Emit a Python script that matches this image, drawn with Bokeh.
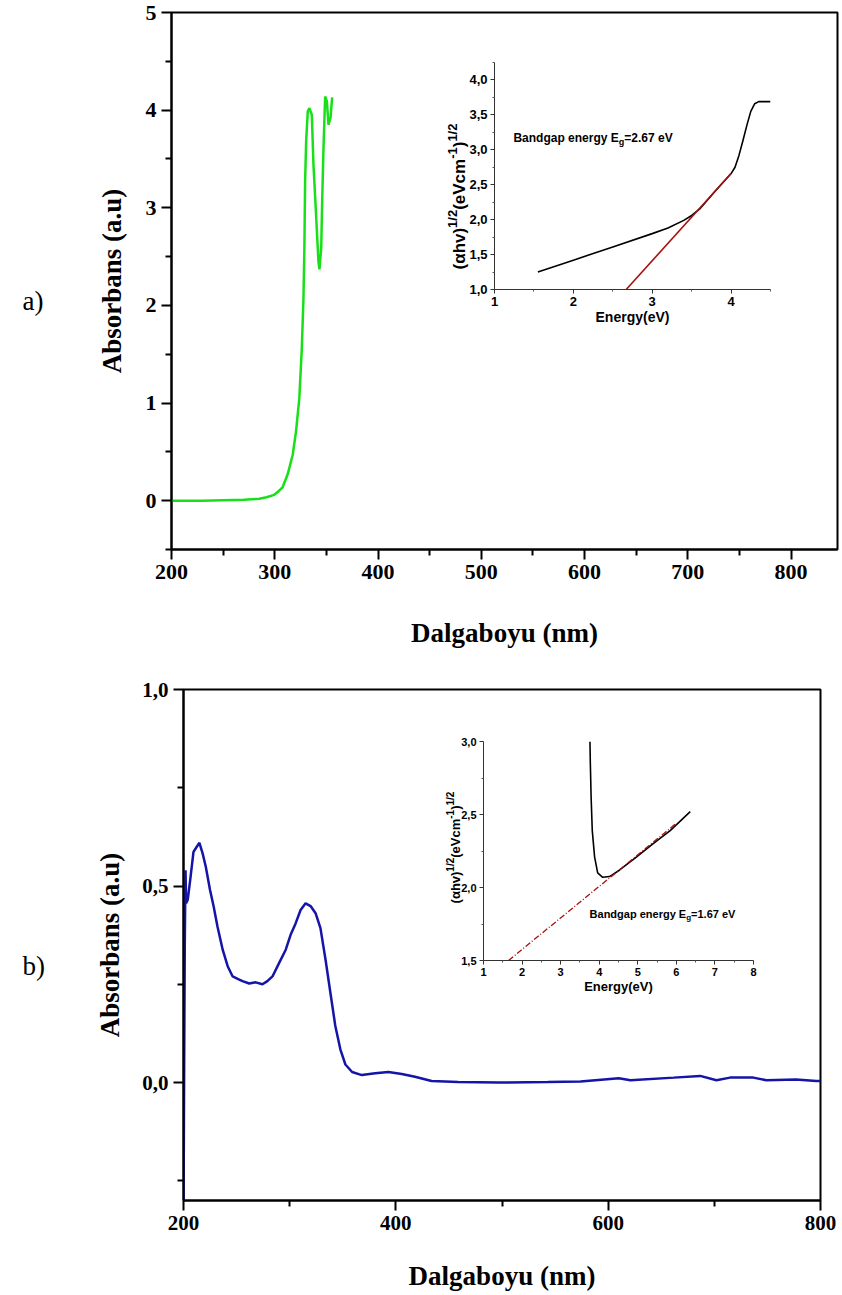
import numpy as np
from bokeh.plotting import figure
from bokeh.models import Range1d, Label, FixedTicker, CustomJSTickFormatter
from bokeh.embed import file_html
from bokeh.resources import INLINE

# ---------------- data ----------------
# (a) main spectrum, green
wl_a = [200, 230, 250, 270, 285, 292, 299.5, 304, 307.7, 312.5, 317.4, 320.6, 323.8, 326.2,
        327.8, 328.7, 329.4, 330.4, 332, 333.6, 335.9, 337.5, 340, 342.3, 343.3, 345,
        346, 347.2, 348.8, 350.5, 352, 354, 355.6]
abs_a = [0.0, 0.0, 0.005, 0.01, 0.02, 0.035, 0.06, 0.1, 0.14, 0.27, 0.47, 0.71, 1.05, 1.56,
         2.07, 2.59, 3.27, 3.68, 3.99, 4.02, 3.95, 3.44, 2.93, 2.45, 2.37, 2.59,
         3.1, 3.61, 4.14, 4.09, 3.85, 3.92, 4.13]

# (a) inset: Tauc plot
energy_a = [1.55, 2.0, 2.5, 3.0, 3.2, 3.4, 3.5, 3.6, 3.8, 4.0, 4.05, 4.1, 4.15, 4.2, 4.25,
            4.3, 4.35, 4.5]
tauc_a = [1.25, 1.42, 1.61, 1.80, 1.88, 1.99, 2.06, 2.15, 2.41, 2.66, 2.75, 2.92, 3.13,
          3.35, 3.55, 3.66, 3.69, 3.69]
fit_a_x = [2.67, 4.0]
fit_a_y = [1.0, 2.66]

# (b) main spectrum, blue
wl_b = [200, 200.6, 201.2, 201.9, 202.5, 204, 206.3, 209.4, 212.5, 215, 218, 221, 225, 228.4,
        232, 236.9, 241.6, 246.3, 251, 255.6, 261.9, 268, 274.4, 279, 283.8, 290, 296.3,
        300.9, 305.6, 310.3, 315, 319.7, 324.4, 329, 333.8, 338.4, 343, 347.8, 352.5, 358.8,
        368, 380.6, 393, 405.6, 418, 433.7, 458.7, 496, 543, 574, 610, 621, 661.7, 686.7,
        702, 714.8, 736.7, 749, 777, 796, 800]
abs_b = [-0.35, 0.03, 0.35, 0.54, 0.456, 0.465, 0.515, 0.587, 0.60, 0.61, 0.583, 0.549, 0.49,
         0.448, 0.397, 0.338, 0.296, 0.27, 0.264, 0.258, 0.252, 0.255, 0.25, 0.258, 0.27,
         0.304, 0.338, 0.376, 0.405, 0.439, 0.456, 0.449, 0.431, 0.393, 0.3125, 0.228, 0.144,
         0.084, 0.046, 0.027, 0.019, 0.024, 0.027, 0.022, 0.015, 0.004, 0.0015, 0.0, 0.0015,
         0.003, 0.011, 0.006, 0.0126, 0.017, 0.006, 0.0126, 0.0126, 0.006, 0.008, 0.004, 0.004]

# (b) inset: Tauc plot
energy_b = [3.76, 3.77, 3.79, 3.82, 3.88, 3.96, 4.09, 4.27, 4.53, 4.97, 5.40, 5.84, 6.36]
tauc_b = [3.0, 2.85, 2.62, 2.39, 2.21, 2.10, 2.07, 2.075, 2.12, 2.21, 2.30, 2.39, 2.52]
fit_b_x = [1.65, 6.0]
fit_b_y = [1.5, 2.44]

# tick values
a_xticks = [200, 300, 400, 500, 600, 700, 800]
a_xminor = [250, 350, 450, 550, 650, 750, 850]
a_yticks = [0, 1, 2, 3, 4, 5]
a_yminor = [-0.5, 0.5, 1.5, 2.5, 3.5, 4.5]
b_xticks = [200, 400, 600, 800]
b_xminor = [300, 500, 700]
b_yticks = [0.0, 0.5, 1.0]
b_yminor = [-0.25, 0.25, 0.75]
ia_xticks = [1, 2, 3, 4]
ia_xminor = [1.5, 2.5, 3.5, 4.5]
ia_yticks = [1.0, 1.5, 2.0, 2.5, 3.0, 3.5, 4.0]
ia_yminor = [1.25, 1.75, 2.25, 2.75, 3.25, 3.75, 4.25]
ib_xticks = [1, 2, 3, 4, 5, 6, 7, 8]
ib_xminor = [1.5, 2.5, 3.5, 4.5, 5.5, 6.5, 7.5]
ib_yticks = [1.5, 2.0, 2.5, 3.0]
ib_yminor = [1.75, 2.25, 2.75]

GREEN = "#18e018"
BLUE = "#1414a8"
RED = "#a81010"
SERIF = "Liberation Serif"
SANS = "Liberation Sans"

comma1 = "return tick.toFixed(1).replace('.', ',');"

# Liberation Sans Bold advance widths (per 1000 em)
W = {' ': 278, '(': 333, ')': 333, ',': 278, '-': 333, '.': 278, '/': 278, '=': 584,
     'B': 722, 'E': 667, 'V': 667, 'a': 556, 'b': 611, 'c': 556, 'd': 611, 'e': 556,
     'g': 611, 'h': 611, 'm': 889, 'n': 611, 'p': 611, 'r': 389, 'v': 556, 'y': 556,
     'α': 611}


def tw(t, size):
    return sum(W.get(c, 556) for c in t) * size / 1000.0


def place(left, top):
    return {"position": "absolute", "left": f"{left}px", "top": f"{top}px"}


def style_main(p, tick_size, xt, xm, yt, ym, yfmt=None):
    p.grid.visible = False
    p.outline_line_color = "black"
    p.outline_line_width = 2
    p.background_fill_color = "white"
    p.border_fill_color = "white"
    p.xaxis.ticker = FixedTicker(ticks=xt, minor_ticks=xm)
    p.yaxis.ticker = FixedTicker(ticks=yt, minor_ticks=ym)
    if yfmt is not None:
        p.yaxis.formatter = CustomJSTickFormatter(code=yfmt)
    for ax in (p.xaxis, p.yaxis):
        ax.axis_line_width = 2
        ax.axis_line_color = "black"
        ax.major_tick_line_width = 2
        ax.minor_tick_line_width = 2
        ax.major_tick_out = 10
        ax.major_tick_in = 0
        ax.minor_tick_out = 6
        ax.minor_tick_in = 0
        ax.major_label_text_font = SERIF
        ax.major_label_text_font_style = "bold"
        ax.major_label_text_font_size = tick_size
        ax.major_label_text_color = "black"
        ax.axis_label_text_font = SERIF
        ax.axis_label_text_font_style = "bold"
        ax.axis_label_text_font_size = "27px"
        ax.axis_label_text_color = "black"


def style_inset(p, xt, xm, yt, ym, tick_size, lab_size):
    p.grid.visible = False
    p.outline_line_color = None
    p.background_fill_alpha = 0
    p.border_fill_alpha = 0
    p.xaxis.ticker = FixedTicker(ticks=xt, minor_ticks=xm)
    p.yaxis.ticker = FixedTicker(ticks=yt, minor_ticks=ym)
    p.yaxis.formatter = CustomJSTickFormatter(code=comma1)
    for ax in (p.xaxis, p.yaxis):
        ax.axis_line_width = 1
        ax.axis_line_color = "#333333"
        ax.major_tick_line_color = "#333333"
        ax.minor_tick_line_color = "#555555"
        ax.major_tick_out = 4
        ax.major_tick_in = 0
        ax.minor_tick_out = 2
        ax.minor_tick_in = 0
        ax.major_label_text_font = SANS
        ax.major_label_text_font_style = "bold"
        ax.major_label_text_font_size = tick_size
        ax.major_label_text_color = "black"
        ax.major_label_standoff = 3
    p.xaxis.axis_label = "Energy(eV)"
    p.xaxis.axis_label_text_font = SANS
    p.xaxis.axis_label_text_font_style = "bold"
    p.xaxis.axis_label_text_font_size = lab_size
    p.xaxis.axis_label_text_color = "black"
    p.xaxis.axis_label_standoff = 0


def text_fig(left, top, w, h):
    """Transparent figure used only to hold free text outside the plot frames."""
    f = figure(width=w, height=h, x_range=Range1d(0, w), y_range=Range1d(0, h),
               output_backend="svg", toolbar_location=None,
               x_axis_location=None, y_axis_location=None, min_border=0,
               styles=place(left, top))
    f.grid.visible = False
    f.outline_line_color = None
    f.background_fill_alpha = 0
    f.border_fill_alpha = 0
    return f


def rot_label(f, pieces, x, yc, S, s):
    total = sum(tw(t, s if sup else S) for t, sup in pieces)
    y = yc - total / 2.0
    for t, sup in pieces:
        size = s if sup else S
        f.add_layout(Label(x=x - (0.42 * S if sup else 0), y=y, text=t, angle=np.pi / 2,
                           text_font=SANS, text_font_style="bold",
                           text_font_size=f"{size}px", text_align="left",
                           text_baseline="alphabetic", text_color="black"))
        y += tw(t, size)


def sub_label(p, x, y, before, sub, after, S):
    s = round(S * 0.75)
    off = 0.0
    for t, size, dy in ((before, S, 0), (sub, s, -0.3 * S), (after, S, 0)):
        p.add_layout(Label(x=x, y=y, x_offset=off, y_offset=dy, text=t,
                           text_font=SANS, text_font_style="bold",
                           text_font_size=f"{size}px", text_align="left",
                           text_baseline="middle", text_color="black"))
        off += tw(t, size)


ylab_pieces = [("(αhv)", False), ("1/2", True), ("(eVcm", False), ("-1", True),
               (")", False), ("1/2", True)]

# ---------------- panel (a) ----------------
p_a = figure(width=842, height=660, x_range=Range1d(200, 845), y_range=Range1d(-0.5, 5),
             output_backend="svg", toolbar_location=None,
             min_border_left=171, min_border_right=5, min_border_top=12, min_border_bottom=111,
             styles=place(0, 0))
style_main(p_a, "22px", a_xticks, a_xminor, a_yticks, a_yminor)
p_a.xaxis.axis_label = "Dalgaboyu (nm)"
p_a.yaxis.axis_label = "Absorbans (a.u)"
p_a.xaxis.axis_label_standoff = 36
p_a.yaxis.axis_label_standoff = 16
p_a.line(wl_a, abs_a, line_color=GREEN, line_width=2.5)

ins_a = figure(width=316, height=279, x_range=Range1d(1, 4.5), y_range=Range1d(1.0, 4.25),
               output_backend="svg", toolbar_location=None,
               min_border_left=34, min_border_right=6, min_border_top=7, min_border_bottom=45,
               styles=place(460, 55))
style_inset(ins_a, ia_xticks, ia_xminor, ia_yticks, ia_yminor, "13px", "14px")
ins_a.line(energy_a, tauc_a, line_color="black", line_width=1.6)
ins_a.line(fit_a_x, fit_a_y, line_color=RED, line_width=1.6)
sub_label(ins_a, 1.24, 3.17, "Bandgap energy E", "g", "=2.67 eV", 12)

lab_a = text_fig(0, 260, 80, 80)
lab_a.add_layout(Label(x=22, y=40, text="a)", text_font=SERIF, text_font_size="27px",
                       text_baseline="middle", text_align="left", text_color="black"))

ylab_a = text_fig(420, 70, 50, 240)
rot_label(ylab_a, ylab_pieces, 39, 240 - (196 - 70), 17, 13)

# ---------------- panel (b) ----------------
p_b = figure(width=842, height=635, x_range=Range1d(200, 800), y_range=Range1d(-0.3, 1.0),
             output_backend="svg", toolbar_location=None,
             min_border_left=183, min_border_right=22, min_border_top=29, min_border_bottom=95,
             styles=place(0, 660))
style_main(p_b, "21px", b_xticks, b_xminor, b_yticks, b_yminor, yfmt=comma1)
p_b.xaxis.axis_label = "Dalgaboyu (nm)"
p_b.yaxis.axis_label = "Absorbans (a.u)"
p_b.xaxis.axis_label_standoff = 28
p_b.yaxis.axis_label_standoff = 14
p_b.line(wl_b, abs_b, line_color=BLUE, line_width=2.5)

ins_b = figure(width=306, height=267, x_range=Range1d(1, 8), y_range=Range1d(1.5, 3.0),
               output_backend="svg", toolbar_location=None,
               min_border_left=28, min_border_right=8, min_border_top=8, min_border_bottom=40,
               styles=place(455, 733))
style_inset(ins_b, ib_xticks, ib_xminor, ib_yticks, ib_yminor, "11px", "13px")
ins_b.line(energy_b, tauc_b, line_color="black", line_width=1.6)
ins_b.line(fit_b_x, fit_b_y, line_color=RED, line_width=1.3, line_dash="6 2 1 2")
sub_label(ins_b, 3.75, 1.82, "Bandgap energy E", "g", "=1.67 eV", 11)

lab_b = text_fig(0, 925, 80, 80)
lab_b.add_layout(Label(x=22, y=40, text="b)", text_font=SERIF, text_font_size="27px",
                       text_baseline="middle", text_align="left", text_color="black"))

ylab_b = text_fig(420, 760, 45, 180)
rot_label(ylab_b, ylab_pieces, 35, 180 - (847 - 760), 13, 10)

roots = [p_a, p_b, ins_a, ins_b, lab_a, lab_b, ylab_a, ylab_b]
open("out.html", "w").write(file_html(roots, INLINE))
